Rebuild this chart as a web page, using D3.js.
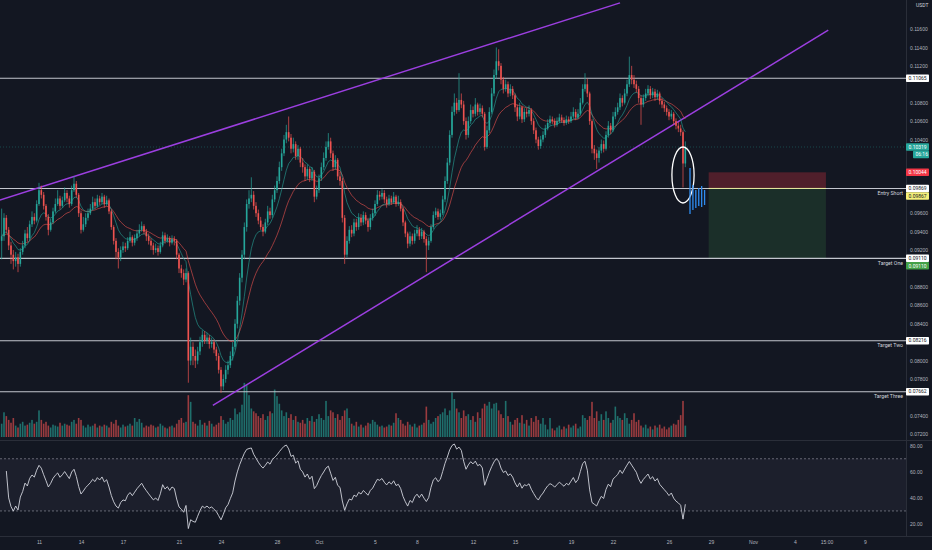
<!DOCTYPE html>
<html>
<head>
<meta charset="utf-8">
<script src="https://cdn.jsdelivr.net/npm/d3@7"></script>
<style>
  body { margin: 0; background: #131722; }
  svg { display: block; font-family: Roboto, "Liberation Sans", sans-serif; }
</style>
</head>
<body>
<svg id="chart" width="932" height="550"></svg>
<script>
// 4h candles, prices in units of 1e-5 USDT
const lastBar = new Date(2020, 9, 27, 4);
const firstOpen = 9300;
const closes = [
  9350,9550,9420,9250,9150,9080,9120,9050,9180,9250,
  9380,9330,9480,9560,9520,9700,9850,9800,9680,9560,
  9420,9500,9620,9700,9760,9680,9740,9820,9760,9700,
  9850,9920,9800,9600,9420,9480,9550,9600,9650,9720,
  9680,9760,9720,9780,9700,9740,9620,9450,9300,9180,
  9120,9200,9240,9220,9300,9340,9280,9330,9380,9420,
  9460,9400,9350,9300,9250,9200,9220,9180,9250,9360,
  9300,9330,9280,9320,9300,9150,9000,8950,8880,8950,
  8000,8150,8050,8000,8100,8200,8280,8220,8250,8180,
  8200,8120,8050,7900,7720,7800,7900,7950,8050,8150,
  8400,8650,8900,9150,9450,9700,9760,9800,9680,9600,
  9520,9450,9400,9500,9620,9580,9750,9850,9950,10100,
  10250,10400,10480,10420,10300,10350,10220,10300,10150,10100,
  10000,10080,9980,10050,9780,9850,9980,10100,10200,10320,
  10380,10250,10100,10180,10000,9950,9550,9150,9300,9420,
  9380,9500,9450,9550,9500,9580,9520,9450,9550,9600,
  9700,9800,9780,9820,9750,9700,9760,9720,9780,9700,
  9720,9650,9500,9380,9270,9350,9300,9380,9420,9350,
  9400,9320,9250,9300,9450,9580,9620,9560,9600,9750,
  9950,10150,10450,10700,10800,10720,10830,10780,10600,10450,
  10600,10720,10680,10780,10700,10740,10680,10320,10500,10700,
  10900,11100,11250,11200,11050,10950,11000,10900,10950,10880,
  10750,10650,10750,10620,10700,10680,10720,10600,10500,10400,
  10330,10400,10450,10520,10580,10620,10600,10560,10600,10640,
  10610,10580,10620,10600,10650,10700,10640,10680,10800,10950,
  11000,10900,10600,10300,10250,10200,10280,10350,10300,10450,
  10550,10500,10650,10700,10750,10850,10800,10900,11000,11100,
  11050,11000,10950,10850,10780,10850,10900,10950,10880,10920,
  10860,10900,10820,10780,10740,10700,10650,10680,10600,10550,
  10520,10480,10140,10319
];
const highs = [
  9650,9600,9580,9450,9290,9200,9180,9160,9220,9300,
  9420,9450,9520,9620,9600,9740,9930,9900,9830,9700,
  9590,9540,9660,9760,9850,9790,9780,9880,9850,9790,
  9900,10000,9950,9820,9630,9560,9600,9650,9700,9780,
  9760,9800,9790,9820,9800,9790,9760,9640,9470,9330,
  9220,9240,9290,9280,9340,9400,9360,9370,9420,9480,
  9510,9480,9430,9380,9330,9280,9270,9250,9290,9400,
  9390,9370,9350,9360,9350,9320,9170,9040,8990,9000,
  8970,8250,8200,8120,8150,8260,8330,8320,8300,8280,
  8250,8230,8150,8080,7930,7850,7950,8000,8100,8200,
  8450,8700,8950,9200,9500,9750,9850,9990,9840,9720,
  9640,9560,9480,9540,9680,9660,9800,9900,10000,10160,
  10300,10450,10560,10650,10460,10420,10380,10340,10320,10200,
  10130,10130,10100,10100,10070,9900,10020,10150,10260,10380,
  10470,10420,10280,10230,10200,10050,9980,9580,9350,9460,
  9470,9540,9540,9600,9590,9620,9610,9550,9590,9650,
  9740,9850,9840,9860,9850,9780,9800,9790,9830,9800,
  9790,9750,9670,9520,9400,9400,9380,9420,9470,9450,
  9440,9420,9350,9340,9480,9620,9660,9650,9640,9790,
  10000,10200,10500,10760,10900,10850,11120,10900,10820,10640,
  10650,10780,10760,10850,10800,10790,10770,10700,10550,10750,
  10960,11160,11400,11380,11230,11080,11050,11030,11000,10980,
  10900,10780,10800,10770,10740,10740,10770,10740,10630,10530,
  10430,10440,10490,10560,10620,10660,10650,10630,10640,10680,
  10670,10640,10660,10650,10700,10750,10730,10730,10850,11000,
  11120,11060,10920,10620,10340,10290,10320,10400,10390,10490,
  10600,10580,10700,10750,10800,10900,10880,10950,11050,11300,
  11200,11100,11040,10980,10880,10890,10950,10990,10980,10960,
  10950,10940,10920,10850,10810,10770,10730,10720,10700,10630,
  10590,10560,10500,10380
];
const lows = [
  9100,9300,9380,9200,9050,8990,9020,8960,9020,9150,
  9220,9290,9300,9450,9480,9500,9680,9760,9640,9520,
  9360,9400,9480,9600,9680,9640,9660,9720,9720,9660,
  9680,9830,9770,9560,9380,9400,9450,9520,9580,9630,
  9650,9660,9690,9700,9660,9680,9590,9420,9260,9100,
  9000,9080,9170,9180,9200,9280,9240,9250,9300,9350,
  9400,9370,9300,9260,9200,9150,9170,9140,9160,9230,
  9270,9280,9240,9260,9250,9100,8950,8900,8820,8850,
  7760,7950,7950,7920,7960,8060,8150,8180,8180,8130,
  8140,8080,8000,7860,7650,7680,7760,7850,7920,8000,
  8120,8350,8600,8850,9100,9400,9650,9720,9640,9560,
  9480,9420,9350,9380,9470,9540,9550,9720,9820,9920,
  10060,10220,10360,10380,10250,10260,10180,10180,10100,10040,
  9950,9960,9940,9950,9720,9750,9820,9950,10070,10170,
  10290,10200,10060,10070,9960,9900,9500,9050,9120,9270,
  9340,9350,9410,9420,9460,9470,9480,9400,9420,9520,
  9570,9680,9740,9750,9710,9660,9680,9690,9700,9670,
  9680,9620,9460,9340,9220,9240,9260,9270,9350,9310,
  9320,9280,8960,9200,9280,9430,9550,9530,9530,9580,
  9720,9920,10120,10420,10660,10680,10700,10740,10560,10400,
  10420,10570,10640,10650,10660,10670,10640,10280,10300,10470,
  10680,10870,11060,11150,11000,10900,10920,10860,10870,10840,
  10700,10600,10620,10580,10590,10640,10650,10560,10460,10360,
  10290,10300,10370,10420,10500,10550,10570,10530,10540,10580,
  10580,10550,10560,10570,10580,10630,10610,10620,10660,10780,
  10920,10860,10560,10250,10180,10080,10150,10250,10260,10280,
  10420,10460,10480,10620,10670,10720,10760,10780,10870,10970,
  11000,10960,10910,10800,10560,10750,10820,10870,10840,10850,
  10820,10830,10780,10740,10700,10660,10610,10620,10560,10510,
  10480,10440,9880,10100
];
const volumes = [
  14,26,22,18,15,20,12,10,14,16,12,13,15,18,14,16,28,
  18,14,16,12,10,13,12,11,15,12,14,13,12,16,18,14,20,18,12,10,13,11,12,14,10,12,11,13,12,10,
  16,14,18,12,10,13,11,12,14,12,20,16,19,15,10,12,11,13,12,10,11,14,12,10,9,11,12,10,
  14,18,20,15,16,44,37,
  16,14,12,18,13,15,12,17,14,11,13,15,22,18,14,16,
  20,18,30,24,26,34,57,55,44,30,27,25,22,
  20,24,18,22,27,25,50,43,35,28,22,26,20,24,18,22,16,
  15,18,14,20,17,22,16,19,24,20,18,38,22,28,26,20,24,18,22,28,30,20,
  14,12,16,11,13,10,12,15,14,18,16,13,11,12,10,11,13,12,15,25,20,18,14,12,16,13,11,14,10,12,13,15,32,18,14,16,20,22,24,
  26,30,23,28,47,40,30,26,20,28,22,24,
  18,22,16,26,20,30,35,33,37,30,35,36,28,
  24,20,38,22,16,13,18,20,15,23,14,18,12,20,16,22,18,14,20,13,
  8,20,9,7,10,12,8,11,9,13,10,12,14,9,11,23,20,18,
  22,37,20,27,17,24,18,27,20,15,18,32,22,20,18,25,20,14,18,25,16,18,
  12,10,13,9,11,8,12,10,13,9,11,8,10,12,14,13,18,23,38,12
];

// horizontal levels drawn across the chart
const levelPrices = [0.11065, 0.09869, 0.09110, 0.08216, 0.07662];
const levelNames  = ['', 'Entry Short', 'Target One', 'Target Two', 'Target Three'];

// short position tool
const entryPrice = 0.09869, stopPrice = 0.10044, targetPrice = 0.09110;
const positionSpan = [new Date(2020, 9, 28, 20), new Date(2020, 10, 6, 5)];

// trend lines (time, price)
const upperLine = [[new Date(2020, 8, 8, 5), 0.09743], [new Date(2020, 9, 22, 12), 0.11884]];
const lowerLine = [[new Date(2020, 8, 23, 10), 0.07513], [new Date(2020, 10, 6, 9), 0.11587]];

// highlighted zone (ellipse) around the breakdown
const ellipseSpan = [new Date(2020, 9, 26, 5), new Date(2020, 9, 27, 19)];
const ellipsePrices = [0.10319, 0.09711];

// projected bars
const projTimes = [new Date(2020, 9, 27, 12), new Date(2020, 9, 27, 17), new Date(2020, 9, 27, 22),
                   new Date(2020, 9, 28, 3), new Date(2020, 9, 28, 8), new Date(2020, 9, 28, 13)];
const projHighs = [0.10091, 0.09906, 0.09852, 0.09874, 0.09895, 0.09852];
const projLows  = [0.09591, 0.09635, 0.09657, 0.09678, 0.09667, 0.09689];

// axis tags
const tagTexts = ['0.11065', '0.10319', '06:16', '0.10044', '0.09869', '0.09867', '0.09110', '0.09110', '0.08216', '0.07662'];
const tagPrices = [0.11065, 0.10319, 0.10319, 0.10044, 0.09869, 0.09867, 0.09110, 0.09110, 0.08216, 0.07662];
const tagKinds = ['level', 'last', 'timer', 'stop', 'level', 'entry', 'level', 'target', 'level', 'level'];

const timeTickDates = [new Date(2020, 8, 11), new Date(2020, 8, 14), new Date(2020, 8, 17), new Date(2020, 8, 21),
  new Date(2020, 8, 24), new Date(2020, 8, 28), new Date(2020, 9, 1), new Date(2020, 9, 5), new Date(2020, 9, 8),
  new Date(2020, 9, 12), new Date(2020, 9, 15), new Date(2020, 9, 19), new Date(2020, 9, 22), new Date(2020, 9, 26),
  new Date(2020, 9, 29), new Date(2020, 10, 1), new Date(2020, 10, 4), new Date(2020, 10, 6, 6), new Date(2020, 10, 9)];
const timeTickLabels = ['11', '14', '17', '21', '24', '28', 'Oct', '5', '8', '12', '15', '19', '22', '26', '29', 'Nov', '4', '15:00', '9'];

const priceTicks = d3.range(72, 119, 2).map(v => v / 1000);
const rsiTicks = [20, 40, 60, 80];

const HOUR = 36e5, DAY = 864e5;
const UP = '#26a69a', DOWN = '#ef5350', BG = '#131722', TXT = '#b2b5be', SEP = '#2a2e39';
const axisX = 906;

const svg = d3.select('#chart');
svg.append('rect').attr('width', 932).attr('height', 550).attr('fill', BG);

const x = d3.scaleTime()
  .domain([new Date(+new Date(2020, 8, 9) - 11 / 14 * DAY), new Date(2020, 10, 12)])
  .range([0, 907]);
const y = d3.scaleLinear().domain([0.072, 0.116]).range([434.3, 29]);
const yv = d3.scaleLinear().domain([0, 60]).range([437, 380]);
const yr = d3.scaleLinear().domain([20, 80]).range([524, 445.7]);

const candles = closes.map((c, i) => ({
  t: new Date(+lastBar - (closes.length - 1 - i) * 4 * HOUR),
  o: (i ? closes[i - 1] : firstOpen) / 1e5,
  c: c / 1e5, h: highs[i] / 1e5, l: lows[i] / 1e5, v: volumes[i]
}));

function ema(vals, n) {
  const k = 2 / (n + 1); let e = vals[0];
  return vals.map((v, i) => i ? (e = v * k + e * (1 - k)) : e);
}
function rsi(vals, n) {
  let ag = 0, al = 0; const out = [null];
  for (let i = 1; i < vals.length; i++) {
    const d = vals[i] - vals[i - 1], g = Math.max(d, 0), l = Math.max(-d, 0);
    if (i <= n) { ag = (ag * (i - 1) + g) / i; al = (al * (i - 1) + l) / i; }
    else { ag = (ag * (n - 1) + g) / n; al = (al * (n - 1) + l) / n; }
    out.push(al === 0 ? 100 : 100 - 100 / (1 + ag / al));
  }
  return out;
}

const defs = svg.append('defs');
defs.append('clipPath').attr('id', 'clipMain').append('rect').attr('width', axisX).attr('height', 440);
defs.append('clipPath').attr('id', 'clipRsi').append('rect').attr('y', 441).attr('width', axisX).attr('height', 95);

// RSI pane
const rsiG = svg.append('g').attr('clip-path', 'url(#clipRsi)');
rsiG.append('rect').attr('x', 0).attr('width', axisX)
  .attr('y', yr(70)).attr('height', yr(30) - yr(70)).attr('fill', '#1c1f2c');
[70, 30].forEach(v => rsiG.append('line').attr('x1', 0).attr('x2', axisX).attr('y1', yr(v)).attr('y2', yr(v))
  .attr('stroke', '#787b86').attr('stroke-dasharray', '2,2').attr('stroke-width', 0.8));
const rsiVals = rsi(candles.map(d => d.c), 14);
rsiG.append('path')
  .datum(candles.map((d, i) => [d.t, rsiVals[i]]).filter((d, i) => i >= 2))
  .attr('fill', 'none').attr('stroke', '#d1d4dc').attr('stroke-width', 0.9)
  .attr('d', d3.line().x(d => x(d[0])).y(d => yr(d[1])));

// main pane
const main = svg.append('g').attr('clip-path', 'url(#clipMain)');

// position tool
main.append('rect').attr('x', x(positionSpan[0])).attr('width', x(positionSpan[1]) - x(positionSpan[0]))
  .attr('y', y(stopPrice)).attr('height', y(entryPrice) - y(stopPrice)).attr('fill', 'rgba(242,54,69,0.28)');
main.append('rect').attr('x', x(positionSpan[0])).attr('width', x(positionSpan[1]) - x(positionSpan[0]))
  .attr('y', y(entryPrice)).attr('height', y(targetPrice) - y(entryPrice)).attr('fill', 'rgba(76,175,80,0.16)');

// volume
main.selectAll('rect.vol').data(candles).join('rect').attr('class', 'vol')
  .attr('x', d => x(d.t) - 0.8).attr('width', 1.6)
  .attr('y', d => yv(d.v)).attr('height', d => yv(0) - yv(d.v))
  .attr('fill', d => d.c >= d.o ? UP : DOWN).attr('opacity', 0.62);

// level lines
levelPrices.forEach(p => main.append('line').attr('x1', 0).attr('x2', axisX)
  .attr('y1', y(p)).attr('y2', y(p)).attr('stroke', '#c3c6ce').attr('stroke-width', 1.1));
main.append('line').attr('x1', x(positionSpan[0])).attr('x2', x(positionSpan[1]))
  .attr('y1', y(entryPrice)).attr('y2', y(entryPrice)).attr('stroke', '#e6e69a').attr('stroke-width', 1);

// current price line
const last = candles[candles.length - 1];
main.append('line').attr('x1', 0).attr('x2', axisX).attr('y1', y(last.c)).attr('y2', y(last.c))
  .attr('stroke', UP).attr('stroke-opacity', 0.5).attr('stroke-dasharray', '1,2').attr('stroke-width', 0.7);

// trend lines
[upperLine, lowerLine].forEach(l => main.append('line')
  .attr('x1', x(l[0][0])).attr('y1', y(l[0][1])).attr('x2', x(l[1][0])).attr('y2', y(l[1][1]))
  .attr('stroke', '#9c3fe0').attr('stroke-width', 1.5));

// moving averages
const closeVals = candles.map(d => d.c);
const emaFast = ema(closeVals, 9), emaSlow = ema(closeVals, 21);
[[emaSlow, DOWN], [emaFast, UP]].forEach(([vals, col]) => main.append('path')
  .datum(candles.map((d, i) => [d.t, vals[i]]))
  .attr('fill', 'none').attr('stroke', col).attr('stroke-width', 0.7).attr('stroke-opacity', 0.85)
  .attr('d', d3.line().x(d => x(d[0])).y(d => y(d[1]))));

// candles
const cg = main.selectAll('g.c').data(candles).join('g').attr('class', 'c');
cg.append('line')
  .attr('x1', d => x(d.t)).attr('x2', d => x(d.t))
  .attr('y1', d => y(Math.max(d.h, d.o, d.c))).attr('y2', d => y(Math.min(d.l, d.o, d.c)))
  .attr('stroke', d => d.c >= d.o ? UP : DOWN).attr('stroke-width', 0.7);
cg.append('rect')
  .attr('x', d => x(d.t) - 0.8).attr('width', 1.6)
  .attr('y', d => y(Math.max(d.o, d.c)))
  .attr('height', d => Math.max(0.7, Math.abs(y(d.o) - y(d.c))))
  .attr('fill', d => d.c >= d.o ? UP : DOWN);

// ellipse
main.append('ellipse')
  .attr('cx', (x(ellipseSpan[0]) + x(ellipseSpan[1])) / 2)
  .attr('cy', (y(ellipsePrices[0]) + y(ellipsePrices[1])) / 2)
  .attr('rx', (x(ellipseSpan[1]) - x(ellipseSpan[0])) / 2)
  .attr('ry', (y(ellipsePrices[1]) - y(ellipsePrices[0])) / 2)
  .attr('fill', 'none').attr('stroke', '#ffffff').attr('stroke-width', 1.3);

// projected bars
main.selectAll('line.proj').data(projTimes).join('line').attr('class', 'proj')
  .attr('x1', d => x(d)).attr('x2', d => x(d))
  .attr('y1', (d, i) => y(projHighs[i])).attr('y2', (d, i) => y(projLows[i]))
  .attr('stroke', '#2f8cf0').attr('stroke-width', 1.3);

// level names
levelPrices.forEach((p, i) => {
  if (!levelNames[i]) return;
  svg.append('text').attr('x', axisX - 3).attr('y', y(p) + 6.3).attr('text-anchor', 'end')
    .attr('font-size', 5.2).attr('fill', '#d1d4dc').text(levelNames[i]);
});

// separators
svg.append('line').attr('x1', 0).attr('x2', 932).attr('y1', 440.5).attr('y2', 440.5).attr('stroke', SEP);
svg.append('line').attr('x1', 0).attr('x2', 932).attr('y1', 536.5).attr('y2', 536.5).attr('stroke', SEP);
svg.append('line').attr('x1', axisX + 0.5).attr('x2', axisX + 0.5).attr('y1', 0).attr('y2', 537).attr('stroke', SEP);

// axis tag layout with simple collision stacking
const tagH = 7.5;
let prevBottom = -Infinity;
const tagTops = tagPrices.map(p => {
  const top = Math.max(y(p) - tagH / 2, prevBottom);
  prevBottom = top + tagH;
  return top;
});
const hiddenByTag = v => tagTops.some(t => y(v) > t - 3 && y(v) < t + tagH + 3) || y(v) < 13;

// price axis
const pAxis = svg.append('g').attr('transform', `translate(${axisX + 4},0)`)
  .call(d3.axisRight(y).tickValues(priceTicks.filter(v => !hiddenByTag(v)))
    .tickFormat(d3.format('.5f')).tickSize(0).tickPadding(0));
pAxis.select('.domain').remove();
pAxis.selectAll('text').attr('fill', TXT).attr('font-size', 5).attr('font-family', null);

// rsi axis
const rAxis = svg.append('g').attr('transform', `translate(${axisX + 4},0)`)
  .call(d3.axisRight(yr).tickValues(rsiTicks).tickFormat(d3.format('.2f')).tickSize(0).tickPadding(0));
rAxis.select('.domain').remove();
rAxis.selectAll('text').attr('fill', TXT).attr('font-size', 5).attr('font-family', null);

// time axis
const tAxis = svg.append('g').attr('transform', 'translate(0,538)')
  .call(d3.axisBottom(x).tickValues(timeTickDates).tickFormat((d, i) => timeTickLabels[i]).tickSize(0).tickPadding(2.5));
tAxis.select('.domain').remove();
tAxis.selectAll('text').attr('fill', TXT).attr('font-size', 5).attr('font-family', null);

// currency label
svg.append('text').attr('x', axisX + 10).attr('y', 7).attr('font-size', 5).attr('fill', '#d1d4dc').text('USDT');

// axis tags
const tagStyle = {
  level:  { fill: '#ffffff', text: '#131722' },
  last:   { fill: UP, text: '#ffffff' },
  timer:  { fill: UP, text: '#ffffff' },
  stop:   { fill: '#f23645', text: '#ffffff' },
  entry:  { fill: '#f5f07a', text: '#131722' },
  target: { fill: '#43a047', text: '#ffffff' }
};
tagTexts.forEach((t, i) => {
  const st = tagStyle[tagKinds[i]];
  const x0 = tagKinds[i] === 'timer' ? axisX + 7 : axisX;
  svg.append('rect').attr('x', x0).attr('y', tagTops[i]).attr('width', 929 - x0).attr('height', tagH)
    .attr('rx', 0.8).attr('fill', st.fill);
  svg.append('text').attr('x', x0 + 2.5).attr('y', tagTops[i] + tagH / 2).attr('dy', '0.35em')
    .attr('font-size', 5).attr('fill', st.text).text(t);
});
</script>
</body>
</html>
